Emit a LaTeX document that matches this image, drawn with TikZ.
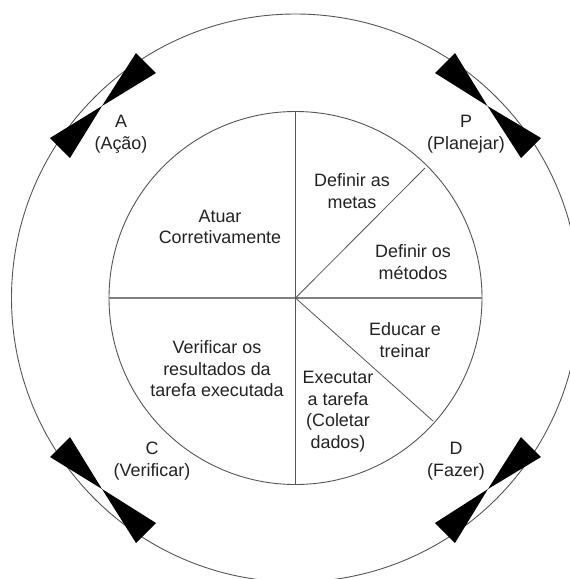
\documentclass[tikz,border=0pt]{standalone}
\usepackage{fontspec}
\setmainfont{Liberation Sans}
\definecolor{ink}{HTML}{222222}
\definecolor{ringgray}{HTML}{555555}
\definecolor{axisgray}{HTML}{808080}
\tikzset{
  lbl/.style={align=center,text=ink,font=\fontsize{17.9}{21.5}\selectfont,inner sep=0pt},
  ring/.style={draw=ringgray,line width=0.9pt},
  spoke/.style={draw=ringgray,line width=0.8pt},
  axis/.style={draw=axisgray,line width=1.4pt},
  bowtie/.style={fill=black,draw=none}
}
\begin{document}
\begin{tikzpicture}[x=1pt,y=-1pt]
\useasboundingbox (0,0) rectangle (570,579);
\clip (0,0) rectangle (570,579);
\fill[white] (0,0) rectangle (570,579);
\coordinate (o) at (295.5,298);
\draw[ring] (o) circle[radius=284pt];
\draw[ring] (o) circle[radius=186.5pt];
\coordinate (top) at (295.5,111.5);
\coordinate (bot) at (295.5,484.5);
\coordinate (lft) at (109,298);
\coordinate (rgt) at (482,298);
\coordinate (ne) at (425,168);
\coordinate (se) at (433,421);
\draw[axis] (lft) -- (rgt);
\draw[spoke] (top) -- (bot);
\draw[spoke] (o) -- (ne);
\draw[spoke] (o) -- (se);
% bow ties
\fill[bowtie] (455,53) -- (435,73) -- (487.5,106) -- (521,158) -- (541,138) -- (487.5,106) -- cycle;
\fill[bowtie] (136,53) -- (156,73) -- (102,106) -- (70,158) -- (50,138) -- (102,106) -- cycle;
\fill[bowtie] (70,437) -- (50,457) -- (102,489) -- (136,543) -- (156,523) -- (102,489) -- cycle;
\fill[bowtie] (521,437) -- (541,457) -- (488,489) -- (455,543) -- (435,523) -- (488,489) -- cycle;
% outer labels
\node[lbl] (lblA) at (121,134) {A\\(Ação)};
\node[lbl] (lblP) at (466,134) {P\\(Planejar)};
\node[lbl] (lblC) at (152,461) {C\\(Verificar)};
\node[lbl] (lblD) at (456,461) {D\\(Fazer)};
% sector labels
\node[lbl] (metas) at (352,191) {Definir as\\metas};
\node[lbl] (metodos) at (413,262) {Definir os\\métodos};
\node[lbl] (educar) at (405,340) {Educar e\\treinar};
\node[lbl] (executar) at (338,411.5) {Executar\\a tarefa\\(Coletar\\dados)};
\node[lbl] (verificar) at (217,369) {Verificar os\\resultados da\\tarefa executada};
\node[lbl] (atuar) at (220,227) {Atuar\\Corretivamente};
\end{tikzpicture}
\end{document}
